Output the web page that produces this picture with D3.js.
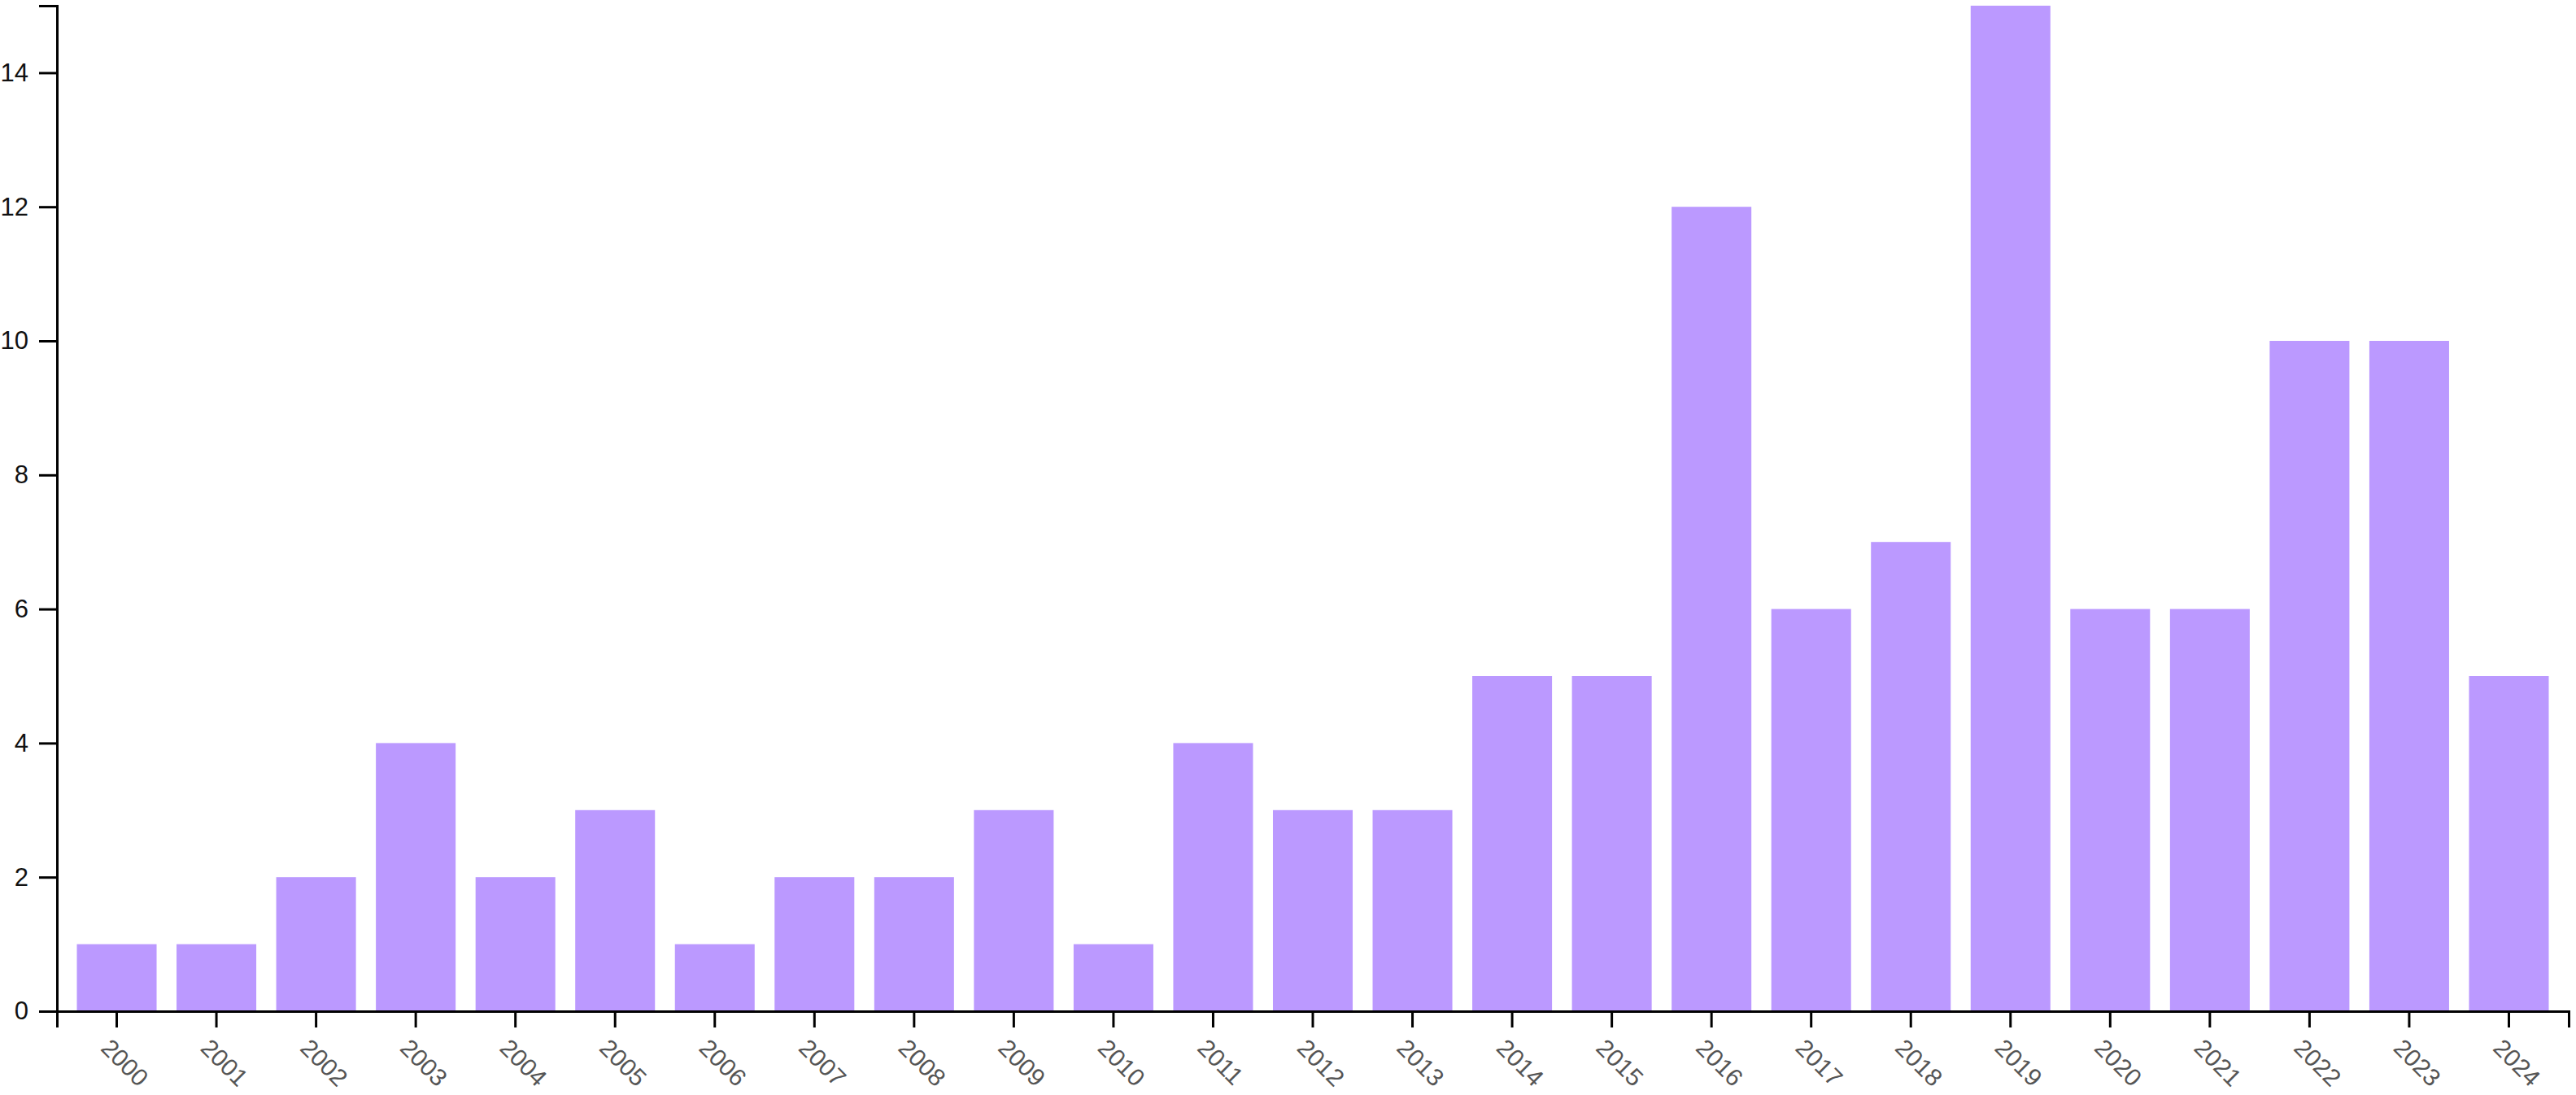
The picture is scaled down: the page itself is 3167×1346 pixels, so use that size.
<!DOCTYPE html>
<html>
<head>
<meta charset="utf-8">
<script src="https://cdn.jsdelivr.net/npm/d3@7"></script>
<style>
  html, body { margin: 0; padding: 0; background: #fff; }
  svg { display: block; }
</style>
</head>
<body>
<script>
var width = 3167,
  height = 1346;

var margin = { top: 7, right: 9, bottom: 103, left: 70 };

// publications per year
var years = ['2000', '2001', '2002', '2003', '2004', '2005', '2006', '2007', '2008', '2009',
  '2010', '2011', '2012', '2013', '2014', '2015', '2016', '2017', '2018', '2019',
  '2020', '2021', '2022', '2023', '2024'];
var counts = [1, 1, 2, 4, 2, 3, 1, 2, 2, 3, 1, 4, 3, 3, 5, 5, 12, 6, 7, 15, 6, 6, 10, 10, 5];
var yTicks = [0, 2, 4, 6, 8, 10, 12, 14];

var innerW = width - margin.left - margin.right,
  innerH = height - margin.top - margin.bottom;

var svg = d3.select('body')
  .append('svg')
  .attr('width', width)
  .attr('height', height)
  .append('g')
  .attr('transform', 'translate(' + margin.left + ',' + margin.top + ')');

var x = d3.scaleBand()
  .domain(years)
  .range([0, innerW])
  .padding(0.2);

var y = d3.scaleLinear()
  .domain([0, 15])
  .range([innerH, 0]);

svg.selectAll('.bar')
  .data(counts)
  .enter()
  .append('rect')
  .attr('class', 'bar')
  .attr('x', function (d, i) { return x(years[i]); })
  .attr('y', function (d) { return y(d); })
  .attr('width', x.bandwidth())
  .attr('height', function (d) { return innerH - y(d); })
  .attr('fill', '#bb99ff');

// x axis
var xAxis = svg.append('g')
  .attr('transform', 'translate(0,' + innerH + ')')
  .call(d3.axisBottom(x).tickSize(20).tickSizeOuter(20));

xAxis.selectAll('path, line')
  .attr('stroke', '#000')
  .attr('stroke-width', 3);

xAxis.selectAll('text')
  .attr('y', 0)
  .attr('dy', 0)
  .attr('transform', 'translate(-21,47) rotate(45)')
  .style('text-anchor', 'start')
  .style('font-family', 'Liberation Sans, Arial, sans-serif')
  .style('font-size', '30px')
  .attr('fill', '#555');

// y axis
var yAxis = svg.append('g')
  .call(d3.axisLeft(y).tickValues(yTicks).tickSize(22).tickSizeOuter(22).tickPadding(13));

yAxis.selectAll('path, line')
  .attr('stroke', '#000')
  .attr('stroke-width', 3);

yAxis.selectAll('text')
  .style('font-family', 'Liberation Sans, Arial, sans-serif')
  .style('font-size', '31px')
  .attr('fill', '#111');
</script>
</body>
</html>
